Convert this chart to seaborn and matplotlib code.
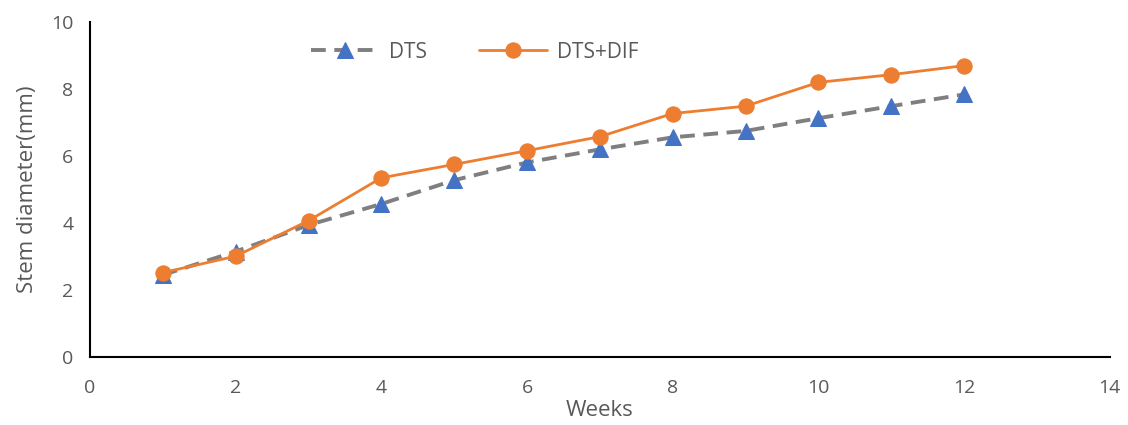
import matplotlib
matplotlib.use("Agg")
import matplotlib.pyplot as plt
import seaborn as sns
import pandas as pd

# values
weeks = [1, 2, 3, 4, 5, 6, 7, 8, 9, 10, 11, 12]
dts = [2.45, 3.15, 3.94, 4.57, 5.28, 5.81, 6.20, 6.56, 6.75, 7.13, 7.49, 7.84]
dts_dif = [2.52, 3.01, 4.07, 5.35, 5.75, 6.16, 6.58, 7.27, 7.49, 8.20, 8.43, 8.70]

x_ticks = [0, 2, 4, 6, 8, 10, 12, 14]
y_ticks = [0, 2, 4, 6, 8, 10]

df = pd.DataFrame({"Weeks": weeks, "DTS": dts, "DTS+DIF": dts_dif})

sns.set_style("white")
plt.rcParams["font.family"] = ["Open Sans", "DejaVu Sans"]

fig = plt.figure(figsize=(11.28, 4.25), dpi=100)
ax = fig.add_axes([0.0798, 0.16, 0.904, 0.788])

sns.lineplot(data=df, x="Weeks", y="DTS", ax=ax, color="#7F7F7F",
             linestyle=(0, (3.8, 2.2)), linewidth=2.8, marker="^",
             markersize=11, markerfacecolor="#4472C4",
             markeredgecolor="#4472C4", label="DTS")
sns.lineplot(data=df, x="Weeks", y="DTS+DIF", ax=ax, color="#ED7D31",
             linewidth=2, marker="o", markersize=11,
             markerfacecolor="#ED7D31", markeredgecolor="#ED7D31",
             label="DTS+DIF")

ax.set_xlim(0, 14)
ax.set_ylim(0, 10)
ax.set_xticks(x_ticks)
ax.set_yticks(y_ticks)
ax.tick_params(axis="both", length=0, labelsize=14, labelcolor="#595959")
ax.tick_params(axis="x", pad=16)
ax.tick_params(axis="y", pad=12)

for side in ["top", "right"]:
    ax.spines[side].set_visible(False)
for side in ["left", "bottom"]:
    ax.spines[side].set_color("black")
    ax.spines[side].set_linewidth(1.5)

ax.set_xlabel("Weeks", fontsize=16, color="#595959", labelpad=2)
ax.set_ylabel("Stem diameter(mm)", fontsize=16, color="#595959", labelpad=9)

ax.legend(loc="center", bbox_to_anchor=(0.377, 0.91), ncol=2, frameon=False,
          fontsize=15, labelcolor="#595959", handlelength=3.3,
          handletextpad=0.45, columnspacing=2.5)

fig.savefig("out.png", dpi=100)
